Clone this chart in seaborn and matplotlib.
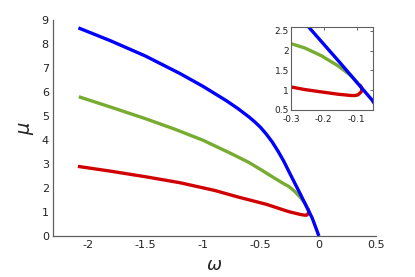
import numpy as np
import pandas as pd
import matplotlib
matplotlib.use("Agg")
import matplotlib.pyplot as plt
import seaborn as sns

# ---- data ----
blue_w = [-2.08, -1.8, -1.5, -1.2, -1.0, -0.8, -0.7, -0.6, -0.55, -0.5, -0.45, -0.4,
          -0.35, -0.3, -0.246, -0.15, -0.053, 0.005]
blue_mu = [8.67, 8.13, 7.50, 6.77, 6.235, 5.645, 5.32, 4.955, 4.75, 4.52, 4.24, 3.92,
           3.54, 3.12, 2.60, 1.69, 0.75, 0.0]

green_w = [-2.076, -1.8, -1.5, -1.25, -1.0, -0.75, -0.6, -0.5, -0.4, -0.3, -0.258, -0.208,
           -0.158, -0.118, -0.096]
green_mu = [5.80, 5.37, 4.89, 4.46, 3.99, 3.42, 3.06, 2.77, 2.47, 2.18, 2.07, 1.875,
            1.625, 1.375, 1.17]

red_w = [-2.084, -1.8, -1.5, -1.2, -0.9, -0.7, -0.45, -0.3, -0.258, -0.208, -0.158,
         -0.118, -0.105, -0.096, -0.086, -0.084, -0.088, -0.094]
red_mu = [2.90, 2.70, 2.47, 2.22, 1.90, 1.63, 1.32, 1.083, 1.017, 0.958, 0.90,
          0.867, 0.865, 0.883, 0.958, 1.04, 1.11, 1.15]

main_xticks = [-2, -1.5, -1, -0.5, 0, 0.5]
main_xticklabels = ["-2", "-1.5", "-1", "-0.5", "0", "0.5"]
main_yticks = [0, 1, 2, 3, 4, 5, 6, 7, 8, 9]
inset_xticks = [-0.3, -0.2, -0.1]
inset_xticklabels = ["-0.3", "-0.2", "-0.1"]
inset_yticks = [0.5, 1, 1.5, 2, 2.5]
inset_yticklabels = ["0.5", "1", "1.5", "2", "2.5"]

colors = {"blue": "#0000ff", "green": "#77ac30", "red": "#d00000"}

sns.set_style("white")
plt.rcParams['font.family'] = ['DejaVu Sans']

frames = []
for name, w, mu in [("red", red_w, red_mu), ("green", green_w, green_mu), ("blue", blue_w, blue_mu)]:
    d = pd.DataFrame({"omega": w, "mu": mu, "branch": name})
    frames.append(d)
df = pd.concat(frames, ignore_index=True)

fig = plt.figure(figsize=(4.15, 2.77), dpi=100)
ax = fig.add_axes([0.1277, 0.148, 0.7783, 0.78])
axin = fig.add_axes([0.701, 0.603, 0.198, 0.2995])

spine_col = "#606060"
for a in (ax, axin):
    for name in ["red", "green", "blue"]:
        sub = df[df.branch == name]
        sns.lineplot(data=sub, x="omega", y="mu", sort=False, estimator=None,
                     color=colors[name], linewidth=2.4, ax=a, legend=False,
                     solid_capstyle="butt", solid_joinstyle="round")

ax.set_xlim(-2.3, 0.5)
ax.set_ylim(0, 9)
ax.set_xticks(main_xticks)
ax.set_xticklabels(main_xticklabels)
ax.set_yticks(main_yticks)
ax.tick_params(direction="in", length=3, width=0.8, color=spine_col, labelsize=8,
               labelcolor="#222222", pad=3)
for s in ["top", "right"]:
    ax.spines[s].set_visible(False)
for s in ["left", "bottom"]:
    ax.spines[s].set_color(spine_col)
    ax.spines[s].set_linewidth(0.9)
ax.set_xlabel(r"$\omega$", fontsize=13, labelpad=4)
ax.set_ylabel(r"$\mu$", fontsize=14, labelpad=4)

axin.set_xlim(-0.3, -0.05)
axin.set_ylim(0.5, 2.6)
axin.set_xticks(inset_xticks)
axin.set_xticklabels(inset_xticklabels)
axin.set_yticks(inset_yticks)
axin.set_yticklabels(inset_yticklabels)
axin.tick_params(direction="in", length=2.5, width=0.7, color=spine_col, labelsize=6.5,
                 labelcolor="#222222", top=True, right=True, pad=1.5)
axin.tick_params(axis="x", pad=3.5)
for s in axin.spines.values():
    s.set_visible(True)
    s.set_color(spine_col)
    s.set_linewidth(0.8)
axin.set_xlabel("")
axin.set_ylabel("")

fig.savefig("out.png", dpi=100)
